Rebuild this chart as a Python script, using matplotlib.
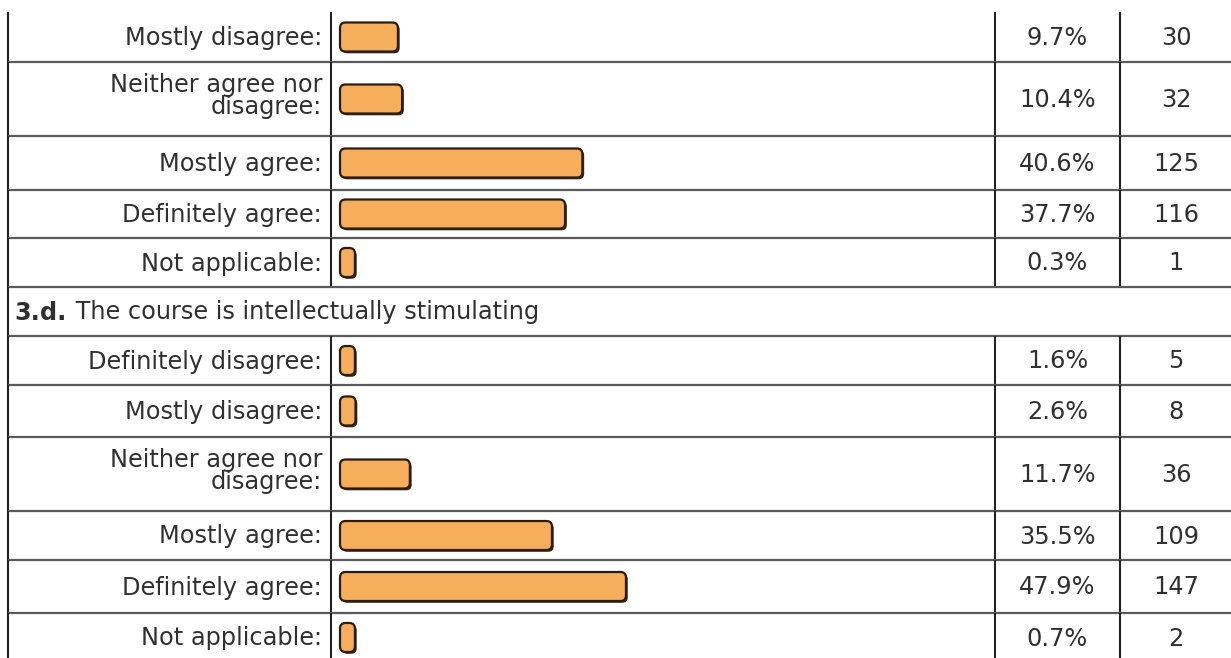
import matplotlib
matplotlib.use("Agg")
import matplotlib.pyplot as plt
from matplotlib.patches import FancyBboxPatch

# ---- survey results -------------------------------------------------------
labels_prev = ["Mostly disagree:", "Neither agree nor\ndisagree:", "Mostly agree:",
               "Definitely agree:", "Not applicable:"]
pct_prev = [9.7, 10.4, 40.6, 37.7, 0.3]
count_prev = [30, 32, 125, 116, 1]

question_id = "3.d."
question_text = " The course is intellectually stimulating"

labels_3d = ["Definitely disagree:", "Mostly disagree:", "Neither agree nor\ndisagree:",
             "Mostly agree:", "Definitely agree:", "Not applicable:"]
pct_3d = [1.6, 2.6, 11.7, 35.5, 47.9, 0.7]
count_3d = [5, 8, 36, 109, 147, 2]

# ---- layout (pixels) ------------------------------------------------------
W, H = 1231, 658
row_edges = [12, 62, 136, 190, 238, 287, 336, 385, 437, 511, 560, 613, 662]
x_left, x_label, x_pct, x_cnt = 8, 331, 995, 1120
bar_x0 = 340
px_per_pct = 5.97
min_bar_pct = 2.5
bar_h = 29
text_col = "#303030"
fs = 17.3

fig = plt.figure(figsize=(W / 100, H / 100), dpi=100)
fig.patch.set_facecolor("white")
ax = fig.add_axes([0, 0, 1, 1])
ax.set_xlim(0, W)
ax.set_ylim(H, 0)
ax.axis("off")

# bar column: x measured in percent
bx = fig.add_axes([x_label / W, 0, (x_pct - x_label) / W, 1])
bx.set_xlim(-(bar_x0 - x_label) / px_per_pct, (x_pct - bar_x0) / px_per_pct)
bx.set_ylim(H, 0)
bx.axis("off")
bx.patch.set_alpha(0)

rows = []
for lab, p, n in zip(labels_prev, pct_prev, count_prev):
    rows.append(("data", lab, p, n))
rows.append(("header", None, None, None))
for lab, p, n in zip(labels_3d, pct_3d, count_3d):
    rows.append(("data", lab, p, n))

hline_kw = dict(color="#5a5a5a", lw=1.6, solid_capstyle="butt")
vline_kw = dict(color="#222222", lw=1.5, solid_capstyle="butt")

fig.canvas.draw()
renderer = fig.canvas.get_renderer()

for i, (kind, lab, p, n) in enumerate(rows):
    top, bot = row_edges[i], row_edges[i + 1]
    yc = (top + bot) / 2
    # row borders
    if i > 0:
        ax.plot([x_left, W], [top, top], **hline_kw)
    ax.plot([x_left, x_left], [top, bot], **vline_kw)
    if kind == "header":
        t = ax.text(14, yc + 1, question_id, ha="left", va="center",
                    fontsize=fs, fontweight="bold", color=text_col)
        bb = t.get_window_extent(renderer)
        ax.text(bb.x1 + 2, yc + 1, question_text, ha="left", va="center",
                fontsize=fs, color=text_col)
        continue
    for xv in (x_label, x_pct, x_cnt):
        ax.plot([xv, xv], [top, bot], **vline_kw)
    ty = yc - 3 if "\n" in lab else yc + 1
    ax.text(322, ty, lab, ha="right", va="center", fontsize=fs,
            color=text_col, linespacing=0.9)
    ax.text((x_pct + x_cnt) / 2, yc + 1, f"{p:.1f}%", ha="center", va="center",
            fontsize=fs, color=text_col)
    ax.text(1176, yc + 1, f"{n}", ha="center", va="center", fontsize=fs,
            color=text_col)
    # bar
    w = max(p, min_bar_pct)
    r = 5.5 / px_per_pct
    shadow = FancyBboxPatch((0.3, yc - bar_h / 2 + 1.8), w, bar_h,
                            boxstyle=f"round,pad=0,rounding_size={r}",
                            mutation_aspect=px_per_pct,
                            fc="#3a2810", ec="none", zorder=2)
    bar = FancyBboxPatch((0, yc - bar_h / 2), w, bar_h,
                         boxstyle=f"round,pad=0,rounding_size={r}",
                         mutation_aspect=px_per_pct,
                         fc="#f6ad5c", ec="#2a1d0e", lw=1.6, zorder=3)
    bx.add_patch(shadow)
    bx.add_patch(bar)

fig.savefig("out.png", dpi=100, facecolor="white")
